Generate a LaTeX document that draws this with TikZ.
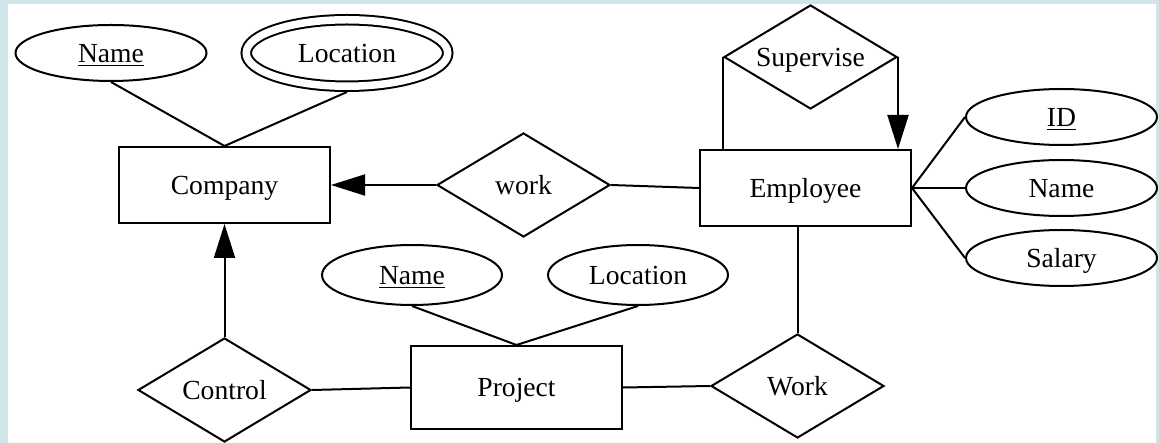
\documentclass[tikz,border=0pt]{standalone}
\usepackage{fontspec}
\setmainfont{Liberation Serif}
\usetikzlibrary{positioning,shapes.geometric,arrows.meta}
\definecolor{frameblue}{RGB}{207,229,234}

\begin{document}
\begin{tikzpicture}[
	font=\fontsize{13.8pt}{16pt}\selectfont,
	line width=1pt,
	every node/.append style={text height=9.1pt, text depth=0pt},
	entity/.style={draw, rectangle, inner sep=0pt, minimum width=105.5pt, minimum height=38pt},
	attr/.style={draw, ellipse, inner sep=0pt, minimum width=95.5pt, minimum height=28pt},
	multi/.style={attr, double, double distance=3.75pt, outer sep=2.875pt, minimum width=100.75pt, minimum height=33.25pt},
	rel/.style={draw, diamond, inner sep=0pt, aspect=1.67, minimum width=86.5pt, minimum height=52pt},
	arr/.style={-{Triangle[length=17pt, width=10.5pt]}}
	]
	%% FRAME
	\useasboundingbox (-112.25pt,-129pt) rectangle (467.25pt,92.5pt);
	\fill[frameblue] (-112.25pt,-129pt) rectangle (467.25pt,92.5pt);
	\fill[white] (-108.25pt,-129pt) rectangle (465.75pt,90.5pt);

	%% COMPANY
	\node[entity](company){Company};
	\node[attr, above=32pt of company, xshift=-56.75pt](comp_name){\underline{Name}};
	\node[multi, right=16.5pt of comp_name](comp_loc){Location};

	\draw (comp_name.south) -- (company.north);
	\draw (comp_loc.south) -- (company.north);

	%% EMPLOYEE
	\node[rel, right=52.5pt of company](work_ce){work};
	\node[entity, right=44pt of work_ce, yshift=-1.5pt](employee){Employee};
	\node[rel, above=19.5pt of employee, xshift=2.5pt](supervise){Supervise};
	\node[attr, right=26.5pt of employee](emp_name){Name};
	\node[attr, above=6.5pt of emp_name](emp_id){\underline{ID}};
	\node[attr, below=6pt of emp_name](emp_salary){Salary};

	\draw[arr] (work_ce.west) -- (company.east);
	\draw (work_ce.east) -- (employee.west);
	\draw (supervise.west) -- (supervise.west |- employee.north);
	\draw[arr] (supervise.east) -- (supervise.east |- employee.north);
	\draw (employee.east) -- (emp_id.west);
	\draw (employee.east) -- (emp_name.west);
	\draw (employee.east) -- (emp_salary.west);

	%% PROJECT
	\node[rel, below=56.5pt of company](control){Control};
	\node[entity, right=49pt of control, yshift=1.25pt, minimum height=41.5pt](project){Project};
	\node[rel, right=43.5pt of project, yshift=0.75pt](work_pe){Work};
	\node[attr, above=19.5pt of project, xshift=-52.25pt, minimum width=90pt, minimum height=30pt](proj_name){\underline{Name}};
	\node[attr, right=22pt of proj_name, minimum width=90pt, minimum height=30pt](proj_loc){Location};

	\draw[arr] (control.north) -- (company.south);
	\draw (control.east) -- (project.west);
	\draw (project.east) -- (work_pe.west);
	\draw (work_pe.north |- employee.south) -- (work_pe.north);
	\draw (proj_name.south) -- (project.north);
	\draw (proj_loc.south) -- (project.north);

\end{tikzpicture}
\end{document}
